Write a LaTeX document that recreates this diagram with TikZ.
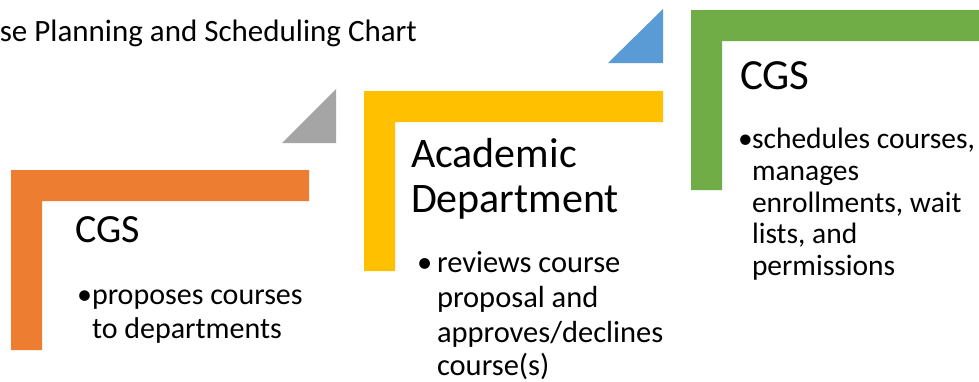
\documentclass[tikz,border=0pt]{standalone}
\usepackage{fontspec}
\setmainfont{Carlito}
\definecolor{oorange}{HTML}{ED7D31}
\definecolor{oyellow}{HTML}{FFC000}
\definecolor{ogreen}{HTML}{70AD47}
\definecolor{oblue}{HTML}{5B9BD5}
\definecolor{ogray}{HTML}{A5A5A5}
\begin{document}
\begin{tikzpicture}[x=1pt,y=-1pt,
  txt/.style={anchor=base west,inner sep=0pt,outer sep=0pt,text=black},
  headA/.style={txt,font=\fontsize{40}{40}\selectfont},
  headB/.style={txt,font=\fontsize{42}{40}\selectfont},
  headC/.style={txt,font=\fontsize{43}{40}\selectfont},
  bodyA/.style={txt,font=\fontsize{30}{32}\selectfont},
  bodyB/.style={txt,font=\fontsize{30.5}{32}\selectfont},
  bodyC/.style={txt,font=\fontsize{29.5}{30}\selectfont}]
\useasboundingbox (0,0) rectangle (979,381);
\clip (0,0) rectangle (979,381);
\fill[white] (0,0) rectangle (979,381);
% title
\node[txt,anchor=base east,font=\fontsize{31}{34}\selectfont] (title) at (417,41.5) {se Planning and Scheduling Chart};
% orange L
\fill[oorange] (11,170) -- (309,170) -- (309,201) -- (42,201) -- (42,350) -- (11,350) -- cycle;
\node[headA] (h1) at (75,242) {CGS};
\node[bodyA] (b1) at (77,304) {•};
\node[bodyA] (l11) at (92,304) {proposes courses};
\node[bodyA] (l12) at (92,338) {to departments};
% gray triangle
\fill[ogray] (282,143) -- (336,143) -- (336,89) -- cycle;
% yellow L
\fill[oyellow] (364,91) -- (663,91) -- (663,122) -- (395,122) -- (395,271) -- (364,271) -- cycle;
\node[headB] (h2a) at (411,167) {Academic};
\node[headB] (h2b) at (411,212) {Department};
\node[bodyB] (b2) at (417,272) {•};
\node[bodyB] (l21) at (437,272) {reviews course};
\node[bodyB] (l22) at (437,307.5) {proposal and};
\node[bodyB] (l23) at (437,342) {approves/declines};
\node[bodyB] (l24) at (437,375.5) {course(s)};
% blue triangle
\fill[oblue] (608,63) -- (663,63) -- (663,9) -- cycle;
% green L
\fill[ogreen] (691,10) -- (985,10) -- (985,41) -- (722,41) -- (722,190) -- (691,190) -- cycle;
\node[headC] (h3) at (740,89) {CGS};
\node[bodyC] (b3) at (738,148) {•};
\node[bodyC] (l31) at (752,148) {schedules courses,};
\node[bodyC] (l32) at (752,180) {manages};
\node[bodyC] (l33) at (752,212) {enrollments, wait};
\node[bodyC] (l34) at (752,243) {lists, and};
\node[bodyC] (l35) at (752,275) {permissions};
\end{tikzpicture}
\end{document}
